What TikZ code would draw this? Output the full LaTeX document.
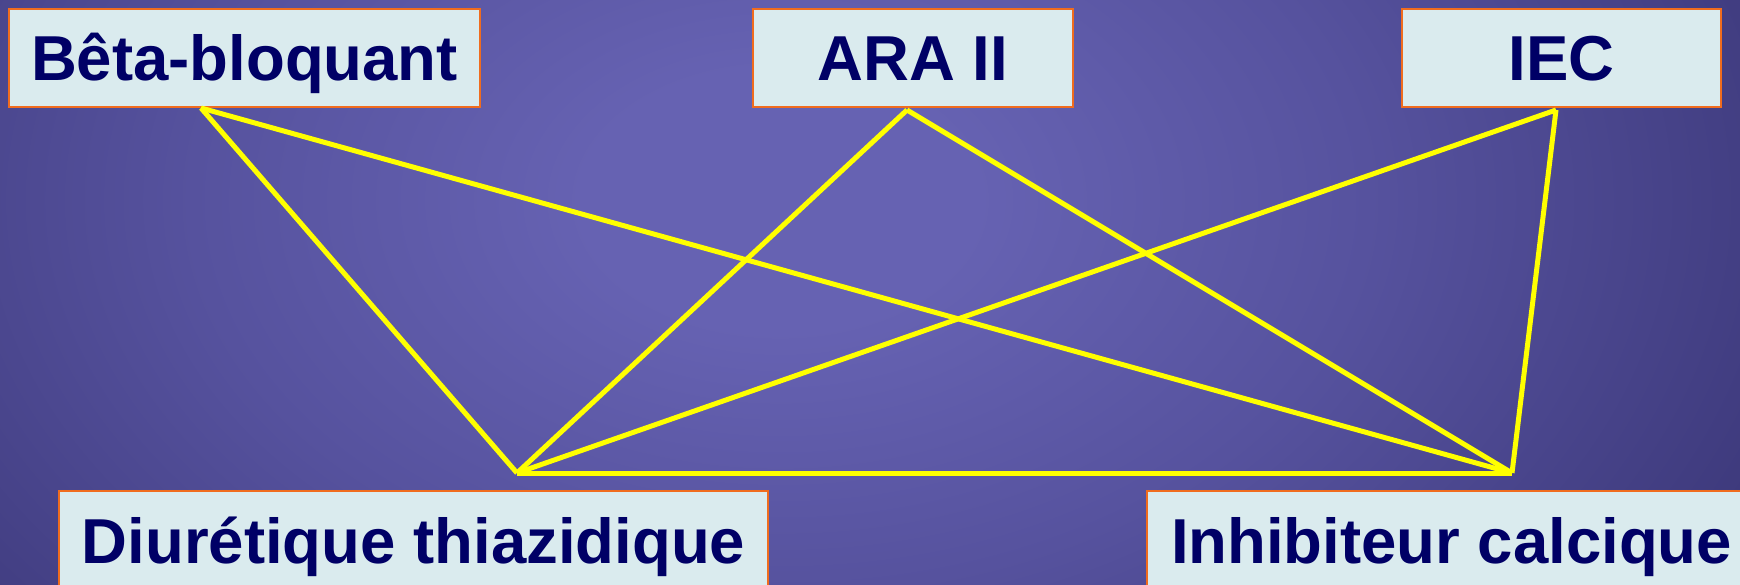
\documentclass[tikz,border=0pt]{standalone}
\usepackage{fontspec}
\setmainfont{Liberation Sans}
\definecolor{bgA}{RGB}{102,98,178}
\definecolor{bgB}{RGB}{86,82,158}
\definecolor{bgC}{RGB}{60,56,122}
\definecolor{bgD}{RGB}{40,37,98}
\definecolor{bgE}{RGB}{30,28,84}
\definecolor{boxfill}{RGB}{218,235,238}
\definecolor{boxborder}{RGB}{240,108,30}
\definecolor{navytext}{RGB}{0,0,102}
\definecolor{linkyellow}{RGB}{255,255,0}
\pgfdeclareradialshading{bgshade}{\pgfpoint{0bp}{0bp}}{color(0bp)=(bgA); color(5bp)=(bgA); color(15bp)=(bgB); color(28bp)=(bgC); color(40bp)=(bgD); color(50bp)=(bgE)}
\tikzset{
  labelbox/.style={draw=boxborder, line width=1.8pt, fill=boxfill, text=navytext,
    font=\fontsize{63.5}{70}\selectfont\bfseries, inner sep=0pt,
    text height=46pt, text depth=0pt, minimum height=98pt},
  link/.style={draw=linkyellow, line width=5pt}
}
\begin{document}
\begin{tikzpicture}[x=1pt,y=-1pt]
\useasboundingbox (0,0) rectangle (1740,585);
\clip (0,0) rectangle (1740,585);
\fill[bgE] (0,0) rectangle (1740,585);
\shade[shading=bgshade] (-200,-450) rectangle (1760,850);
% boxes
\node[labelbox, minimum width=471pt] (beta) at (244.5,58) {Bêta-bloquant};
\node[labelbox, minimum width=320pt] (ara) at (913,58) {ARA II};
\node[labelbox, minimum width=319pt] (iec) at (1561.5,58) {IEC};
\node[labelbox, minimum width=709pt] (diur) at (413.5,540) {Diurétique thiazidique};
\node[labelbox, minimum width=609pt] (inhib) at (1451.5,540) {Inhibiteur calcique};
% connector end points
\coordinate (pb) at (201,108);
\coordinate (pa) at (907,110);
\coordinate (pi) at (1556,110);
\coordinate (pd) at (517,473);
\coordinate (pc) at (1512,473);
% connectors
\draw[link] (pb) -- (pd);
\draw[link] (pb) -- (pc);
\draw[link] (pa) -- (pd);
\draw[link] (pa) -- (pc);
\draw[link] (pi) -- (pd);
\draw[link] (pi) -- (pc);
\draw[link] (pd) -- (pc);
\end{tikzpicture}
\end{document}
